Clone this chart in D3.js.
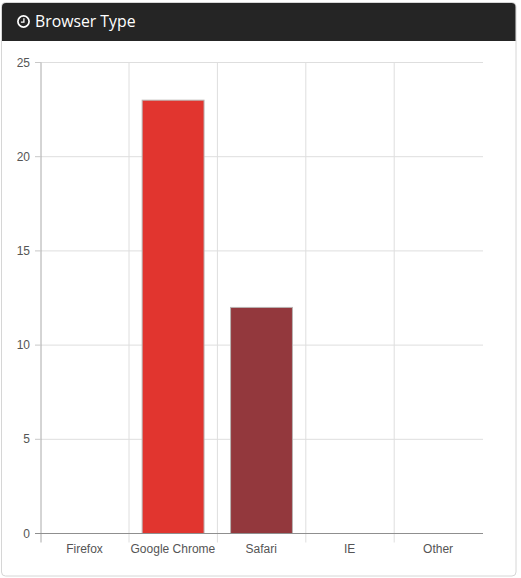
<!DOCTYPE html>
<html>
<head>
<meta charset="utf-8">
<script src="https://cdn.jsdelivr.net/npm/d3@7"></script>
<style>
  html, body { margin: 0; padding: 0; background: #fff; }
  svg { display: block; }
</style>
</head>
<body>
<svg id="chart" width="521" height="578"></svg>
<script>
const categories = ["Firefox", "Google Chrome", "Safari", "IE", "Other"];
const sessions = [0, 23, 12, 0, 0];
const barColors = ["#3f8fd0", "#e1352f", "#93383d", "#999999", "#999999"];
const yTicks = [0, 5, 10, 15, 20, 25];
const title = "Browser Type";

const svg = d3.select("#chart");
const plot = { left: 41, right: 483, top: 62.5, bottom: 533.5 };
const labelFont = "'Liberation Sans', Arial, sans-serif";

// Panel card and dark heading
svg.append("rect").attr("x", 1.5).attr("y", 2.5).attr("width", 514.5).attr("height", 573.5)
  .attr("rx", 4).attr("fill", "#fff").attr("stroke", "#d6d6d6");
svg.append("path")
  .attr("d", "M2,41V7a4,4 0 0 1 4,-4H511.5a4,4 0 0 1 4,4V41Z")
  .attr("fill", "#252525");

// Clock icon in the heading
const icon = svg.append("g").attr("transform", "translate(23.5,21.5)")
  .attr("fill", "none").attr("stroke", "#fff");
icon.append("circle").attr("r", 5.6).attr("stroke-width", 1.7);
icon.append("path").attr("d", "M0.4,-3.2V0.6H-2.6").attr("stroke-width", 1.3);

svg.append("text").attr("x", 35).attr("y", 27)
  .attr("font-family", "'Open Sans', sans-serif").attr("font-size", 15.8)
  .attr("fill", "#fff").text(title);

const x = d3.scaleBand().domain(categories).range([plot.left, plot.right])
  .paddingInner(0.3).paddingOuter(0.15);
const y = d3.scaleLinear().domain([0, 25]).range([plot.bottom, plot.top]);
const step = x.step();

// Horizontal grid lines
svg.append("g").selectAll("line").data(yTicks.filter(d => d > 0)).join("line")
  .attr("x1", plot.left).attr("x2", plot.right)
  .attr("y1", d => y(d)).attr("y2", d => y(d))
  .attr("stroke", "#dedede").attr("stroke-width", 1);

// Vertical grid lines between categories, running past the baseline as ticks
svg.append("g").selectAll("line").data(categories.slice(1)).join("line")
  .attr("x1", d => x(d) - x.padding() * step / 2 - 0.4).attr("x2", d => x(d) - x.padding() * step / 2 - 0.4)
  .attr("y1", plot.top).attr("y2", plot.bottom + 9)
  .attr("stroke", "#dedede").attr("stroke-width", 1);

// Bars, nudged left so the edges land on whole pixels
svg.append("g").selectAll("rect").data(categories).join("rect")
  .attr("x", d => x(d) - 0.5)
  .attr("width", x.bandwidth())
  .attr("y", (d, i) => y(sessions[i]))
  .attr("height", (d, i) => plot.bottom - y(sessions[i]))
  .attr("fill", (d, i) => barColors[i])
  .attr("stroke", "#b9b3b2").attr("stroke-width", 1)
  .attr("display", (d, i) => sessions[i] > 0 ? null : "none");

// Left axis line and value ticks
svg.append("line").attr("x1", plot.left).attr("x2", plot.left)
  .attr("y1", plot.top).attr("y2", plot.bottom + 9)
  .attr("stroke", "#aaaaaa").attr("stroke-width", 1);
svg.append("g").selectAll("line").data(yTicks).join("line")
  .attr("x1", plot.left - 6).attr("x2", plot.left)
  .attr("y1", d => y(d)).attr("y2", d => y(d))
  .attr("stroke", d => d === 0 ? "#8f8f8f" : "#c8c8c8");
svg.append("line").attr("x1", plot.left).attr("x2", plot.right)
  .attr("y1", plot.bottom).attr("y2", plot.bottom)
  .attr("stroke", "#8f8f8f").attr("stroke-width", 1);

// Axis labels
svg.append("g").selectAll("text").data(yTicks).join("text")
  .attr("x", 30).attr("y", d => y(d) + 4)
  .attr("text-anchor", "end")
  .attr("font-family", labelFont).attr("font-size", 12).attr("fill", "#555")
  .text(d => d);
svg.append("g").selectAll("text").data(categories).join("text")
  .attr("x", d => x(d) + x.bandwidth() / 2 - 0.7).attr("y", 552.5)
  .attr("text-anchor", "middle")
  .attr("font-family", labelFont).attr("font-size", 12).attr("fill", "#555")
  .text(d => d);
</script>
</body>
</html>
